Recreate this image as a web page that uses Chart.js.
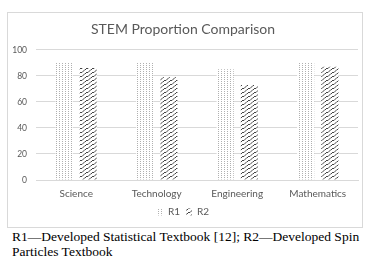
<!DOCTYPE html>
<html>
<head>
<meta charset="utf-8">
<script src="https://cdn.jsdelivr.net/npm/chart.js@4"></script>
<style>
  body { margin: 0; background: #fff; width: 366px; height: 259px; position: relative; overflow: hidden; }
  #box { position: absolute; left: 7px; top: 12px; width: 354px; height: 214px; border: 1px solid #d9d9d9; }
  #caption { position: absolute; left: 12px; top: 230px; width: 360px; font: 13.5px "Liberation Serif", "Times New Roman", serif; line-height: 14.5px; color: #000; }
</style>
</head>
<body>
<div id="box"><canvas id="grafico" width="354" height="214"></canvas></div>
<div id="caption">R1—Developed Statistical Textbook [12]; R2—Developed Spin<br>Particles Textbook</div>
<script>
const categories = ["Science", "Technology", "Engineering", "Mathematics"];
const r1Values = [90, 90, 85, 90];
const r2Values = [86, 79, 73, 87];
const yTicks = [0, 20, 40, 60, 80, 100];

// dotted fill for R1
function dotPattern() {
  const c = document.createElement("canvas");
  c.width = 3; c.height = 2;
  const g = c.getContext("2d");
  g.fillStyle = "#fff";
  g.fillRect(0, 0, 3, 2);
  g.fillStyle = "#b0b0b0";
  g.fillRect(0, 0, 1, 1);
  return g.createPattern(c, "repeat");
}

// wavy diagonal fill for R2
function wavePattern() {
  const c = document.createElement("canvas");
  c.width = 6; c.height = 4;
  const g = c.getContext("2d");
  g.fillStyle = "#fff";
  g.fillRect(0, 0, 6, 4);
  g.strokeStyle = "#444";
  g.lineWidth = 1;
  g.beginPath();
  g.moveTo(0, 3.5); g.lineTo(2, 3.5); g.lineTo(5, 0.5); g.lineTo(6, 0.5);
  g.stroke();
  return g.createPattern(c, "repeat");
}

const ctx = document.getElementById("grafico");
new Chart(ctx, {
  type: "bar",
  data: {
    labels: categories,
    datasets: [
      { label: "R1", data: r1Values, backgroundColor: dotPattern(), borderWidth: 0 },
      { label: "R2", data: r2Values, backgroundColor: wavePattern(), borderWidth: 0 }
    ]
  },
  options: {
    responsive: false,
    animation: false,
    devicePixelRatio: 1,
    categoryPercentage: 0.6,
    barPercentage: 0.71,
    layout: { padding: { left: 0, right: 4, top: 0, bottom: 0 } },
    plugins: {
      title: {
        display: true,
        text: "STEM Proportion Comparison",
        color: "#595959",
        font: { family: "Lato", size: 14, weight: "normal" },
        padding: { top: 8, bottom: 12 }
      },
      legend: {
        position: "bottom",
        labels: {
          color: "#595959",
          font: { family: "Lato", size: 10 },
          boxWidth: 6,
          boxHeight: 7,
          padding: 6
        }
      },
      tooltip: { enabled: false }
    },
    scales: {
      x: {
        afterFit: (s) => { s.height = 21; },
        grid: { display: false, drawTicks: false },
        border: { color: "#d9d9d9" },
        ticks: { color: "#595959", font: { family: "Lato", size: 10 }, padding: 8 }
      },
      y: {
        min: 0,
        max: 100,
        afterBuildTicks: (s) => { s.ticks = yTicks.map(v => ({ value: v })); },
        afterFit: (s) => { s.width = 28; },
        grid: { color: "#d9d9d9", drawTicks: false },
        border: { display: false },
        ticks: { color: "#595959", font: { family: "Lato", size: 8.5 }, padding: 9 }
      }
    }
  }
});
</script>
</body>
</html>
